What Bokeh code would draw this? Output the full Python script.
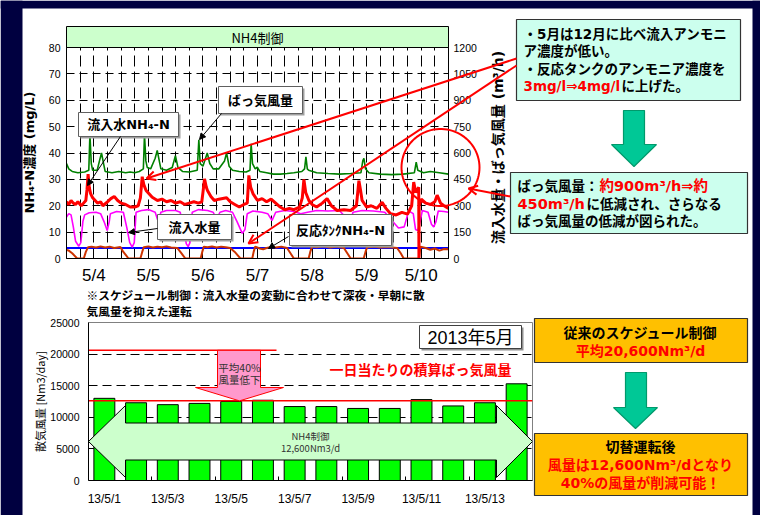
import math
from bokeh.plotting import figure
from bokeh.models import (Range1d, LinearAxis, FixedTicker, Label, GridBox, Arrow,
                          OpenHead, NormalHead)
from bokeh.embed import file_html
from bokeh.resources import INLINE

# ---------------- one week of plant records (hours from 5/4 0:00) ----------------
day_labels = ["5/4", "5/5", "5/6", "5/7", "5/8", "5/9", "5/10"]

# aeration air flow [m3/h] (right axis)
air_h = [0, 1, 2.5, 5, 8, 9.8, 10.3, 10.9, 11.5, 13.5,
         14.5, 15.4, 16.3, 17, 20, 23, 26, 28, 30, 32,
         33.8, 34.3, 34.9, 35.5, 37, 39, 39.9, 40.8, 41.5, 44,
         46.5, 47.9, 49, 51, 54, 57.5, 58.2, 58.8, 60, 61.9,
         63, 64.5, 67, 69.5, 70.4, 71.5, 73, 76, 79, 80.7,
         81.2, 81.8, 83, 83.9, 85, 88, 91, 94, 97, 100,
         103.5, 104.7, 105.3, 105.9, 106.5, 110, 115, 120, 125, 129.5,
         130.3, 130.8, 131.5, 133, 138, 143, 148, 153, 153.8, 154.5,
         157, 160, 164, 168]
air_v = [540, 510, 495, 488, 492, 502, 705, 540, 502, 502,
         555, 600, 540, 495, 488, 495, 488, 492, 488, 495,
         510, 705, 555, 518, 510, 570, 615, 555, 510, 502,
         518, 585, 518, 495, 492, 502, 675, 540, 525, 600,
         540, 510, 510, 555, 600, 525, 502, 495, 492, 502,
         652, 540, 510, 519, 495, 488, 480, 480, 483, 488,
         495, 510, 578, 510, 502, 488, 483, 480, 483, 488,
         555, 570, 510, 488, 480, 477, 480, 488, 548, 502,
         488, 495, 488, 480]

# influent flow [m3/h] (right axis)
flow_h = [0, 1, 2, 3, 4, 5.4, 6.3, 7.2, 8, 10,
          13, 15, 16.5, 17.9, 18.8, 19.3, 22, 25, 26.6, 27.8,
          28.9, 29.8, 30.6, 33, 36, 39, 40.4, 41.5, 44, 48,
          50, 51.5, 52.7, 53.5, 54.3, 55.3, 58, 62, 64.5, 66,
          67.5, 70, 73, 75, 77.3, 78.5, 79.5, 82, 86, 88.5,
          90.4, 92, 96, 100, 103, 106, 110, 115, 120, 123.5,
          124.8, 126, 130, 135, 140, 143.5, 146, 148.5, 150.5, 152.5,
          153.5, 154.5, 155.5, 156.5, 159, 160.5, 161.5, 162.5, 163.5, 166,
          168]
flow_v = [236, 255, 248, 180, 98, 70, 90, 210, 248, 260,
          263, 255, 210, 159, 210, 255, 267, 263, 171, 90,
          65, 90, 263, 273, 278, 263, 207, 263, 273, 273,
          263, 165, 83, 68, 90, 263, 278, 273, 263, 225,
          263, 273, 263, 210, 143, 165, 255, 270, 263, 255,
          216, 263, 273, 267, 255, 263, 273, 270, 273, 225,
          207, 263, 273, 270, 263, 210, 173, 180, 270, 255,
          165, 159, 210, 273, 263, 195, 179, 210, 270, 267,
          263]

# influent NH4-N [mg/L]
inf_h = [0, 1, 2, 3, 4, 5, 6.5, 7.5, 8.5, 9,
         9.5, 10, 10.6, 11.5, 13.6, 15, 16, 18, 19.5, 21,
         22.5, 24, 26, 28, 30, 31.5, 32.5, 33.3, 34, 35,
         37.7, 40, 42, 44, 46, 48, 50, 52, 54, 56,
         58, 59.5, 60, 60.7, 61.5, 62, 63.5, 65, 67, 70.4,
         72, 74, 76, 78, 79.5, 80.2, 81, 82, 84, 86,
         88, 90, 92, 94, 96, 98, 100, 102.5, 103.7, 104.4,
         105.2, 106.6, 108, 110, 112.5, 114.6, 116.5, 119, 122, 125,
         127.5, 128.6, 129.3, 130, 132, 134, 136.5, 138.8, 140.5, 142.5,
         145, 147.5, 150, 151.8, 152.7, 153.6, 154.9, 155.0, 155.1, 156,
         158, 160, 162, 163, 164.5, 166, 168]
inf_v = [21.5, 20.5, 22, 21, 20.5, 21.5, 20, 21, 22, 26,
         32, 27, 24.6, 23, 21, 21.5, 20, 21.5, 22.7, 23.5,
         22, 21, 20.5, 19.5, 19.5, 20, 23, 31, 28, 25.8,
         23.2, 22, 22.5, 21.5, 22, 21, 21.5, 20.5, 21, 21.5,
         21, 21.5, 25, 30.2, 27, 25.8, 23.5, 22, 22.5, 23,
         21.5, 20.5, 19.5, 20.5, 21, 31.5, 27, 24.6, 22, 22.7,
         21.5, 22.5, 21, 19.5, 18.5, 19, 18.5, 19.5, 23, 30,
         25, 22, 20.5, 19.5, 21, 22.7, 20, 18.2, 18.5, 18.2,
         20, 29.5, 26, 22, 19.5, 20, 19, 21.3, 19, 17,
         16.5, 17.5, 16.8, 20, 29, 25, 27, 0, 20, 22.5,
         21, 20.5, 21.5, 24, 21, 20, 19]

# reaction tank NH4-N [mg/L]
tank_h = [0, 1, 2.5, 4.7, 7.6, 8.5, 9.5, 11, 13, 15,
          17, 19, 21, 23.7, 25, 27.3, 32.5, 33.3, 34, 36,
          38, 40, 42, 44, 46, 48.7, 50.5, 52.3, 59, 59.7,
          60.4, 62, 64, 66, 68, 70, 72, 74, 76.5, 81.7,
          82.3, 83, 85, 86.5, 88, 90, 92, 94.5, 97, 98.5,
          100, 106.5, 107.2, 108, 110, 113, 116, 119, 122, 123.5,
          125, 130.7, 131.5, 132.2, 135, 138, 141, 145.4, 147, 148.3,
          155, 155.7, 158, 160, 162, 164, 166, 168]
tank_v = [3.2, 3.0, 2, 0, 0, 2.5, 4.3, 4.5, 4.2, 4.6,
          4.2, 4.5, 4.0, 4.4, 2.5, 0, 0, 2.5, 4.3, 4.6,
          4.2, 4.5, 4.3, 4.6, 4.2, 4.0, 2, 0, 0, 2.5,
          4.5, 4.3, 4.6, 4.2, 4.5, 4.3, 4.0, 2.5, 0, 0,
          2.5, 4.5, 3.8, 3.5, 4.0, 4.4, 4.2, 4.5, 4.0, 2,
          0, 0, 2.5, 4.5, 4.3, 4.6, 4.2, 4.5, 4.0, 2,
          0, 0, 2.5, 4.3, 4.5, 4.2, 4.4, 4.0, 2, 0,
          0, 4.5, 4.0, 3.3, 3.8, 3.0, 3.6, 3.5]

# NH4-N set point [mg/L]
set_h = [0, 168]
set_v = [4, 4]

# ---------------- daily integrated aeration, May 2013 ----------------
dates = ["13/5/1", "13/5/2", "13/5/3", "13/5/4", "13/5/5", "13/5/6", "13/5/7",
         "13/5/8", "13/5/9", "13/5/10", "13/5/11", "13/5/12", "13/5/13", "13/5/14"]
daily_air = [13000, 12300, 12000, 12200, 12500, 12700, 11700,
             11700, 11400, 11400, 12800, 11800, 12300, 15300]
avg_schedule = 20600   # former schedule control, Nm3/d
avg_nh4 = 12600        # NH4 control, Nm3/d

# ---------------- styling ----------------
W, H = 760, 515
JP = "Noto Sans CJK JP"
MIX = "DejaVu Sans, Noto Sans CJK JP"
LAT = "Liberation Sans"
NAVY = "#000040"
RED = "#FF0000"
TEAL = "#00C896"
TEAL_EDGE = "#00996B"
AQUA = "#CCFFEE"
ORANGE = "#FFC000"


def make_map(left, right, top, bottom, x0, x1, y0, y1):
    """page pixel -> data coordinate of a plot frame"""
    def fx(px):
        return x0 + (px - left) * (x1 - x0) / (right - left)

    def fy(py):
        return y0 + (bottom - py) * (y1 - y0) / (bottom - top)
    return fx, fy


IDENT = (lambda v: v, lambda v: v)   # overlay sheets use page pixels directly


def sheet(fill):
    """full-page figure whose frame covers the whole canvas (no axes)"""
    p = figure(width=W, height=H, x_range=Range1d(0, W), y_range=Range1d(H, 0),
               x_axis_location=None, y_axis_location=None, title=None,
               output_backend="svg", toolbar_location=None,
               min_border=0, min_border_left=0, min_border_right=0,
               min_border_top=0, min_border_bottom=0,
               background_fill_color=fill, border_fill_color=fill,
               outline_line_color=None)
    p.grid.visible = False
    return p


def no_align(p):
    try:
        p.frame_align = False
    except Exception:
        pass


def box(p, m, x0, y0, x1, y1, fill, line=None, lw=1.0):
    fx, fy = m
    p.quad(left=fx(x0), right=fx(x1), top=fy(y0), bottom=fy(y1), fill_color=fill,
           line_color=line, line_width=lw)


def shape(p, m, pts, fill, line=None, lw=1.0):
    fx, fy = m
    p.patch([fx(x) for x, _ in pts], [fy(y) for _, y in pts], fill_color=fill,
            line_color=line, line_width=lw)


def down_arrow_pts(bx0, bx1, y0, yh, hx0, hx1, ytip):
    cx = (hx0 + hx1) / 2
    return [(bx0, y0), (bx1, y0), (bx1, yh), (hx1, yh), (cx, ytip), (hx0, yh), (bx0, yh)]


def label(p, m, px, py, s, size, color="black", bold=False, align="left", font=JP, angle=0.0):
    fx, fy = m
    p.add_layout(Label(x=fx(px), y=fy(py), text=s, text_font=font,
                       text_font_size=f"{size}px", text_color=color,
                       text_font_style="bold" if bold else "normal",
                       text_align=align, text_baseline="middle", angle=angle))


def arrow(p, m, x0, y0, x1, y1, color, lw, head):
    fx, fy = m
    p.add_layout(Arrow(x_start=fx(x0), y_start=fy(y0), x_end=fx(x1), y_end=fy(y1),
                       line_color=color, line_width=lw, end=head))


def style_axis(ax, size, standoff, font=LAT):
    ax.major_tick_in = 0
    ax.major_tick_out = 0
    ax.minor_tick_line_color = None
    ax.major_label_standoff = standoff
    ax.major_label_text_font = font
    ax.major_label_text_font_size = f"{size}px"
    ax.major_label_text_color = "black"
    ax.axis_line_color = "black"


# ================= background sheet: page frame, boxes, titles =================
bg = sheet("white")
no_align(bg)
for r in ((0, 0, 22, H), (752, 0, W, H), (0, 0, W, 8)):
    box(bg, IDENT, *r, fill=NAVY)

# header bar of the upper chart
box(bg, IDENT, 66, 26, 448, 47, fill="#CCFFCC", line="black", lw=1)
label(bg, IDENT, 257, 36.5, "NH4制御", 13, align="center")

# axis titles
label(bg, IDENT, 29, 152, "NH₄-N濃度 (mg/L)", 13, bold=True, align="center", font=MIX,
      angle=math.pi / 2)
label(bg, IDENT, 497, 147, "流入水量・ばっ気風量 (m³/h)", 14, bold=True, align="center",
      font=MIX, angle=math.pi / 2)
label(bg, IDENT, 39, 401, "散気風量 [Nm3/day]", 11, align="center", angle=math.pi / 2)

# note under the upper chart
label(bg, IDENT, 86, 293.5, "※スケジュール制御：流入水量の変動に合わせて深夜・早朝に散", 11.7, bold=True)
label(bg, IDENT, 86, 309.5, "気風量を抑えた運転", 11.7, bold=True)

# explanation boxes (upper right)
box(bg, IDENT, 516, 19, 740, 100, fill=AQUA, line="#333333", lw=1.2)
label(bg, IDENT, 523, 33.5, "・5月は12月に比べ流入アンモニ", 13.5, bold=True, font=MIX)
label(bg, IDENT, 523, 50.5, "ア濃度が低い。", 13.5, bold=True, font=MIX)
label(bg, IDENT, 523, 68, "・反応タンクのアンモニア濃度を", 13.5, bold=True, font=MIX)
label(bg, IDENT, 523, 85, "3mg/l⇒4mg/l", 13.5, color=RED, bold=True, font=MIX)
label(bg, IDENT, 621, 85, "に上げた。", 13.5, bold=True, font=MIX)

shape(bg, IDENT, down_arrow_pts(623, 644, 110, 144, 611, 656, 166), fill=TEAL,
      line=TEAL_EDGE, lw=1.2)

box(bg, IDENT, 510, 172, 747, 233, fill=AQUA, line="#333333", lw=1.2)
label(bg, IDENT, 517, 185, "ばっ気風量：", 13.5, bold=True, font=MIX)
label(bg, IDENT, 599, 185, "約900m³/h⇒約", 14.5, color=RED, bold=True, font=MIX)
label(bg, IDENT, 517, 203, "450m³/h", 14.5, color=RED, bold=True, font=MIX)
label(bg, IDENT, 586, 203, "に低減され、さらなる", 13.5, bold=True, font=MIX)
label(bg, IDENT, 517, 220.5, "ばっ気風量の低減が図られた。", 13.5, bold=True, font=MIX)

# summary boxes (lower right)
box(bg, IDENT, 534, 318, 747, 362, fill=ORANGE, line="#333333", lw=1.2)
label(bg, IDENT, 640, 332, "従来のスケジュール制御", 14, bold=True, align="center", font=MIX)
label(bg, IDENT, 640, 350, "平均20,600Nm³/d", 14, color=RED, bold=True, align="center", font=MIX)
shape(bg, IDENT, down_arrow_pts(625, 646, 372, 407, 613, 657, 428), fill=TEAL,
      line=TEAL_EDGE, lw=1.2)
box(bg, IDENT, 534, 433, 747, 495, fill=ORANGE, line="#333333", lw=1.2)
label(bg, IDENT, 640, 446, "切替運転後", 14, bold=True, align="center", font=MIX)
label(bg, IDENT, 640, 464.5, "風量は12,600Nm³/dとなり", 14, color=RED, bold=True, align="center", font=MIX)
label(bg, IDENT, 640, 482, "40%の風量が削減可能！", 14, color=RED, bold=True, align="center", font=MIX)

# ================= upper chart: NH4 control week =================
p1 = figure(width=W, height=H, x_range=Range1d(0, 168), y_range=Range1d(0, 80),
            output_backend="svg", toolbar_location=None, title=None,
            min_border_left=66, min_border_right=W - 448, min_border_top=47,
            min_border_bottom=H - 258,
            border_fill_color=None, background_fill_color=None,
            outline_line_color="black", outline_line_width=1)
no_align(p1)
p1.extra_y_ranges = {"flow": Range1d(0, 1200)}
m1 = make_map(66, 448, 47, 258, 0, 168, 0, 80)
fx1, fy1 = m1

day_mid = [24 * i + 12 for i in range(len(day_labels))]
xa = p1.xaxis[0]
xa.ticker = FixedTicker(ticks=day_mid)
xa.major_label_overrides = {t: s for t, s in zip(day_mid, day_labels)}
style_axis(xa, 17, 7)

ya = p1.yaxis[0]
ya.ticker = FixedTicker(ticks=list(range(0, 81, 10)))
style_axis(ya, 10.5, 6)

ra = LinearAxis(y_range_name="flow", ticker=FixedTicker(ticks=list(range(0, 1201, 150))))
style_axis(ra, 10.5, 5)
p1.add_layout(ra, "right")

p1.xgrid.ticker = FixedTicker(ticks=[6 * i for i in range(1, 28)])
p1.ygrid.ticker = FixedTicker(ticks=list(range(10, 80, 10)))
p1.xgrid.grid_line_dash = "11 5"
p1.ygrid.grid_line_dash = "8 5"
for g in (p1.xgrid[0], p1.ygrid[0]):
    g.grid_line_color = "black"
    g.grid_line_width = 1
    g.grid_line_alpha = 1

p1.line(set_h, set_v, line_color="#0000FF", line_width=2)
p1.line(tank_h, tank_v, line_color="#CC3300", line_width=2)
p1.line(flow_h, flow_v, y_range_name="flow", line_color="#FF00FF", line_width=1.6)
p1.line(air_h, air_v, y_range_name="flow", line_color="#008000", line_width=1.6)
p1.line(inf_h, inf_v, line_color=RED, line_width=3)

# series call-outs
callouts = [
    (218, 86, 302, 113, "ばっ気風量", (221, 113, 199, 139)),
    (78, 112, 178, 136, "流入水NH₄-N", (120, 136, 87, 185)),
    (157, 214, 231, 239, "流入水量", (157, 228, 128, 232)),
    (289, 214, 391, 245, "反応ﾀﾝｸNH₄-N", (288, 236, 268, 248)),
]
for x0, y0, x1, y1, s, a in callouts:
    box(p1, m1, x0 + 2, y0 + 2, x1 + 2, y1 + 2, fill="#A0A0A0")
    box(p1, m1, x0, y0, x1, y1, fill="white", line="#606060")
for x0, y0, x1, y1, s, a in callouts:
    label(p1, m1, (x0 + x1) / 2, (y0 + y1) / 2, s, 13, bold=True, align="center", font=MIX)
    arrow(p1, m1, *a, "black", 1, NormalHead(size=6, fill_color="black", line_color="black"))

# ================= lower chart: daily integrated aeration =================
p2 = figure(width=W, height=H, x_range=Range1d(0.5, 14.5), y_range=Range1d(0, 25000),
            output_backend="svg", toolbar_location=None, title=None,
            min_border_left=88, min_border_right=W - 532, min_border_top=322,
            min_border_bottom=H - 480,
            border_fill_color=None, background_fill_color=None,
            outline_line_color="#808080", outline_line_width=1)
no_align(p2)
m2 = make_map(88, 532, 322, 480, 0.5, 14.5, 0, 25000)
fx2, fy2 = m2

day_pos = list(range(1, len(dates) + 1))
shown = day_pos[::2]
xb = p2.xaxis[0]
xb.ticker = FixedTicker(ticks=shown, minor_ticks=[t + 1.5 for t in shown[:-1]])
xb.major_label_overrides = {t: dates[t - 1] for t in shown}
style_axis(xb, 12, 11)
xb.minor_tick_line_color = "black"
xb.minor_tick_in = 4
xb.minor_tick_out = 0

yb = p2.yaxis[0]
yb.ticker = FixedTicker(ticks=list(range(0, 25001, 5000)))
style_axis(yb, 10.5, 9)

p2.xgrid.visible = False
p2.ygrid.ticker = FixedTicker(ticks=[5000, 10000, 15000, 20000])
p2.ygrid.grid_line_color = "black"
p2.ygrid.grid_line_dash = "9 5"
p2.ygrid.grid_line_width = 1

p2.vbar(x=day_pos, top=daily_air, width=0.66, fill_color="#00FF00", line_color="black",
        line_width=1)

# wide double arrow marking the NH4 control period
shape(p2, m2, [(88, 441), (125, 405), (125, 422.5), (496, 422.5), (496, 405), (532, 441),
               (496, 477), (496, 459.5), (125, 459.5), (125, 477)],
      fill="#CCFFCC", line="black", lw=1)

# averages: former schedule control and NH4 control
p2.segment(x0=[0.5, 0.5], y0=[avg_schedule, avg_nh4], x1=[fx2(276), 14.5],
           y1=[avg_schedule, avg_nh4], line_color=RED, line_width=1.5)

# 40 % reduction arrow between the two averages
head_y = fy2(387)
pk = [(fx2(217), avg_schedule), (fx2(260), avg_schedule), (fx2(260), head_y),
      (fx2(283), head_y), (fx2(239), avg_nh4), (fx2(195), head_y), (fx2(217), head_y)]
p2.patch([x for x, _ in pk], [y for _, y in pk], fill_color="#FF99CC", line_color=RED,
         line_width=1)

# month tag
box(p2, m2, 421, 327, 523, 350, fill="#909090")
box(p2, m2, 419, 325, 521, 348, fill="white", line="#404040")

label(p2, m2, 470, 337, "2013年5月", 18, align="center", font="Liberation Sans, Noto Sans CJK JP")
label(p2, m2, 420, 368, "一日当たりの積算ばっ気風量", 14, color=RED, bold=True, align="center")
label(p2, m2, 239, 366.5, "平均40%", 10.5, color="#333333", align="center")
label(p2, m2, 239, 379, "風量低下", 10.5, color="#333333", align="center")
label(p2, m2, 310, 435.5, "NH4制御", 9.5, color="#333333", align="center")
label(p2, m2, 310, 447.5, "12,600Nm3/d", 9.5, color="#333333", align="center")

# ================= top sheet: red pointers over the charts =================
fg = sheet(None)
no_align(fg)


def red_head():
    return OpenHead(size=9, line_color=RED, line_width=2)


arrow(fg, IDENT, 516, 58, 146, 178, RED, 2, red_head())
arrow(fg, IDENT, 516, 65, 248, 243, RED, 2, red_head())
arrow(fg, IDENT, 510, 196, 468, 188, RED, 2, red_head())
ring_x = [440 + 39 * math.cos(2 * math.pi * k / 90) for k in range(91)]
ring_y = [167 + 38.5 * math.sin(2 * math.pi * k / 90) for k in range(91)]
fg.line(ring_x, ring_y, line_color=RED, line_width=2)

page = GridBox(children=[(bg, 0, 0), (p1, 0, 0), (p2, 0, 0), (fg, 0, 0)], spacing=0)
open("out.html", "w").write(file_html(page, INLINE))
